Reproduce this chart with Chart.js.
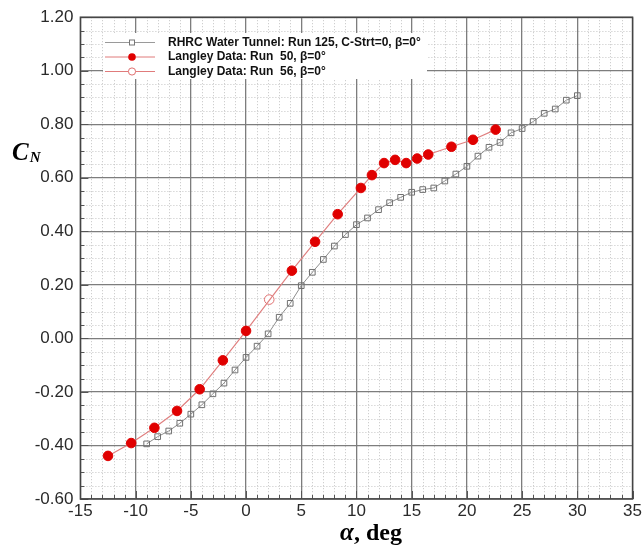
<!DOCTYPE html>
<html><head><meta charset="utf-8">
<script src="https://cdn.jsdelivr.net/npm/chart.js@4.4.1/dist/chart.umd.min.js"></script>
<style>html,body{margin:0;padding:0;background:#fff}#wrap{position:relative;width:644px;height:546px}</style>
</head><body><div id="wrap"><canvas id="c" width="644" height="546"></canvas></div>
<script>
// ---- data ----
const grayAlpha = [-9,-8,-7,-6,-5,-4,-3,-2,-1,0,1,2,3,4,5,6,7,8,9,10,11,12,13,14,15,16,17,18,19,20,21,22,23,24,25,26,27,28,29,30];
const grayCN = [-0.394,-0.367,-0.346,-0.317,-0.283,-0.248,-0.207,-0.167,-0.118,-0.071,-0.029,0.017,0.079,0.131,0.197,0.247,0.295,0.345,0.388,0.425,0.450,0.481,0.507,0.527,0.546,0.556,0.562,0.588,0.614,0.643,0.681,0.714,0.732,0.768,0.784,0.810,0.841,0.857,0.890,0.907];
const run50Alpha = [-12.5,-10.4,-8.3,-6.25,-4.2,-2.1,0,4.15,6.25,8.3,10.4,11.4,12.5,13.5,14.5,15.5,16.5,18.6,20.55,22.6];
const run50CN = [-0.439,-0.391,-0.334,-0.271,-0.190,-0.082,0.028,0.253,0.361,0.464,0.562,0.610,0.655,0.667,0.655,0.672,0.687,0.716,0.742,0.780];
const run56Alpha = [2.1];
const run56CN = [0.145];
const xTickValues = [-15,-10,-5,0,5,10,15,20,25,30,35];
const yTickValues = [-0.6,-0.4,-0.2,0,0.2,0.4,0.6,0.8,1.0,1.2];
const legendLabels = ['RHRC Water Tunnel: Run 125, C-Strt=0, \u03b2=0\u00b0','Langley Data: Run  50, \u03b2=0\u00b0','Langley Data: Run  56, \u03b2=0\u00b0'];
const xTitleParts = ['\u03b1', ', deg'];
const yTitleParts = ['C', 'N'];

const pts = (xs, ys) => xs.map((x, i) => ({x: x, y: ys[i]}));

const decor = {
  id: 'decor',
  beforeDraw(chart) {
    const {ctx, chartArea: a, scales: {x, y}} = chart;
    ctx.save();
    ctx.strokeStyle = '#c4c4c4';
    ctx.lineWidth = 1;
    ctx.setLineDash([1, 2]);
    for (let v = -15; v <= 35; v++) {
      if (v % 5 === 0) continue;
      const px = Math.round(x.getPixelForValue(v)) + 0.5;
      ctx.beginPath(); ctx.moveTo(px, a.top); ctx.lineTo(px, a.bottom); ctx.stroke();
    }
    for (let k = -12; k <= 24; k++) {
      if (k % 4 === 0) continue;
      const py = Math.round(y.getPixelForValue(k * 0.05)) + 0.5;
      ctx.beginPath(); ctx.moveTo(a.left, py); ctx.lineTo(a.right, py); ctx.stroke();
    }
    ctx.restore();
  },
  afterDraw(chart) {
    const {ctx, chartArea: a, scales: {x, y}} = chart;
    ctx.save();
    ctx.strokeStyle = '#555';
    ctx.lineWidth = 1;
    for (let v = -15; v <= 35; v++) {
      const px = Math.round(x.getPixelForValue(v)) + 0.5;
      const len = v % 5 === 0 ? 8 : 4;
      ctx.beginPath(); ctx.moveTo(px, a.bottom); ctx.lineTo(px, a.bottom - len); ctx.stroke();
    }
    for (let k = -12; k <= 24; k++) {
      const py = Math.round(y.getPixelForValue(k * 0.05)) + 0.5;
      const len = k % 4 === 0 ? 8 : 4;
      ctx.beginPath(); ctx.moveTo(a.left, py); ctx.lineTo(a.left + len, py); ctx.stroke();
    }
    ctx.strokeStyle = '#444';
    ctx.lineWidth = 1.5;
    ctx.strokeRect(a.left, a.top, a.right - a.left, a.bottom - a.top);

    // legend
    ctx.fillStyle = '#fff';
    ctx.fillRect(103, 33, 324, 46);
    const rows = [42, 56.5, 71];
    const lineCols = ['#9a9a9a', '#e07b7b', '#e07b7b'];
    ctx.setLineDash([]);
    for (let i = 0; i < 3; i++) {
      const ry = rows[i];
      ctx.strokeStyle = lineCols[i]; ctx.lineWidth = 1;
      ctx.beginPath(); ctx.moveTo(105, ry + 0.5); ctx.lineTo(155, ry + 0.5); ctx.stroke();
      if (i === 0) {
        ctx.fillStyle = '#fff'; ctx.fillRect(129.5, ry - 2, 5, 5);
        ctx.strokeStyle = '#777'; ctx.strokeRect(129.5, ry - 2, 5, 5);
      } else if (i === 1) {
        ctx.fillStyle = '#e00000';
        ctx.beginPath(); ctx.arc(132, ry + 0.5, 3.8, 0, Math.PI * 2); ctx.fill();
      } else {
        ctx.fillStyle = '#fff'; ctx.strokeStyle = '#e07070';
        ctx.beginPath(); ctx.arc(132, ry + 0.5, 3.6, 0, Math.PI * 2); ctx.fill(); ctx.stroke();
      }
      ctx.fillStyle = '#111';
      ctx.font = 'bold 12px "Liberation Sans", Arial, sans-serif';
      ctx.textBaseline = 'middle';
      ctx.textAlign = 'left';
      ctx.fillText(legendLabels[i], 168, ry + 0.5);
    }

    // axis titles
    ctx.fillStyle = '#000';
    ctx.textBaseline = 'alphabetic';
    ctx.font = 'bold italic 25px "Liberation Serif", "Times New Roman", serif';
    ctx.fillText(yTitleParts[0], 12, 160);
    const cw = ctx.measureText(yTitleParts[0]).width;
    ctx.font = 'bold italic 15px "Liberation Serif", "Times New Roman", serif';
    ctx.fillText(yTitleParts[1], 12 + cw + 1, 162);

    ctx.font = 'bold italic 25px "Liberation Serif", serif';
    const w1 = ctx.measureText(xTitleParts[0]).width;
    ctx.font = 'bold 24px "Liberation Serif", serif';
    const w2 = ctx.measureText(xTitleParts[1]).width;
    const sx = 371 - (w1 + w2) / 2;
    ctx.font = 'bold italic 25px "Liberation Serif", serif';
    ctx.fillText(xTitleParts[0], sx, 540);
    ctx.font = 'bold 24px "Liberation Serif", serif';
    ctx.fillText(xTitleParts[1], sx + w1, 540);
    ctx.restore();
  }
};

const tickFont = {family: '"Liberation Sans", Arial, sans-serif', size: 17};

new Chart(document.getElementById('c'), {
  type: 'scatter',
  data: {
    datasets: [
      {label: legendLabels[0], data: pts(grayAlpha, grayCN), showLine: true,
       borderColor: '#8c8c8c', borderWidth: 1, pointStyle: 'rect', pointRadius: 4,
       pointBorderColor: '#707070', pointBackgroundColor: 'rgba(255,255,255,0)', pointBorderWidth: 1},
      {label: legendLabels[1], data: pts(run50Alpha, run50CN), showLine: true,
       borderColor: '#e08080', borderWidth: 1.2, pointStyle: 'circle', pointRadius: 4.8,
       pointBorderColor: '#e00000', pointBackgroundColor: '#e00000', pointBorderWidth: 1},
      {label: legendLabels[2], data: pts(run56Alpha, run56CN), showLine: false,
       borderColor: '#e07070', pointStyle: 'circle', pointRadius: 4.8,
       pointBorderColor: '#e07070', pointBackgroundColor: '#ffffff', pointBorderWidth: 1}
    ]
  },
  options: {
    responsive: false,
    animation: false,
    events: [],
    devicePixelRatio: 1,
    layout: {padding: {left: 0, right: 10.7, top: 16, bottom: 0}},
    plugins: {legend: {display: false}, tooltip: {enabled: false}, title: {display: false}},
    scales: {
      x: {
        type: 'linear', min: -15, max: 35,
        afterBuildTicks: (s) => { s.ticks = xTickValues.map(v => ({value: v})); },
        afterFit: (s) => { s.height = 47; },
        grid: {color: '#7d7d7d', lineWidth: 1.3, drawTicks: false},
        border: {display: false},
        ticks: {font: tickFont, color: '#2a2a2a', padding: 2, maxRotation: 0, callback: (v) => String(v)}
      },
      y: {
        type: 'linear', min: -0.6, max: 1.2,
        afterBuildTicks: (s) => { s.ticks = yTickValues.map(v => ({value: v})); },
        afterFit: (s) => { s.width = 80.4; },
        grid: {color: '#7d7d7d', lineWidth: 1.3, drawTicks: false},
        border: {display: false},
        ticks: {font: tickFont, color: '#2a2a2a', padding: 7, callback: (v) => Number(v).toFixed(2)}
      }
    }
  },
  plugins: [decor]
});
</script>
</body></html>
